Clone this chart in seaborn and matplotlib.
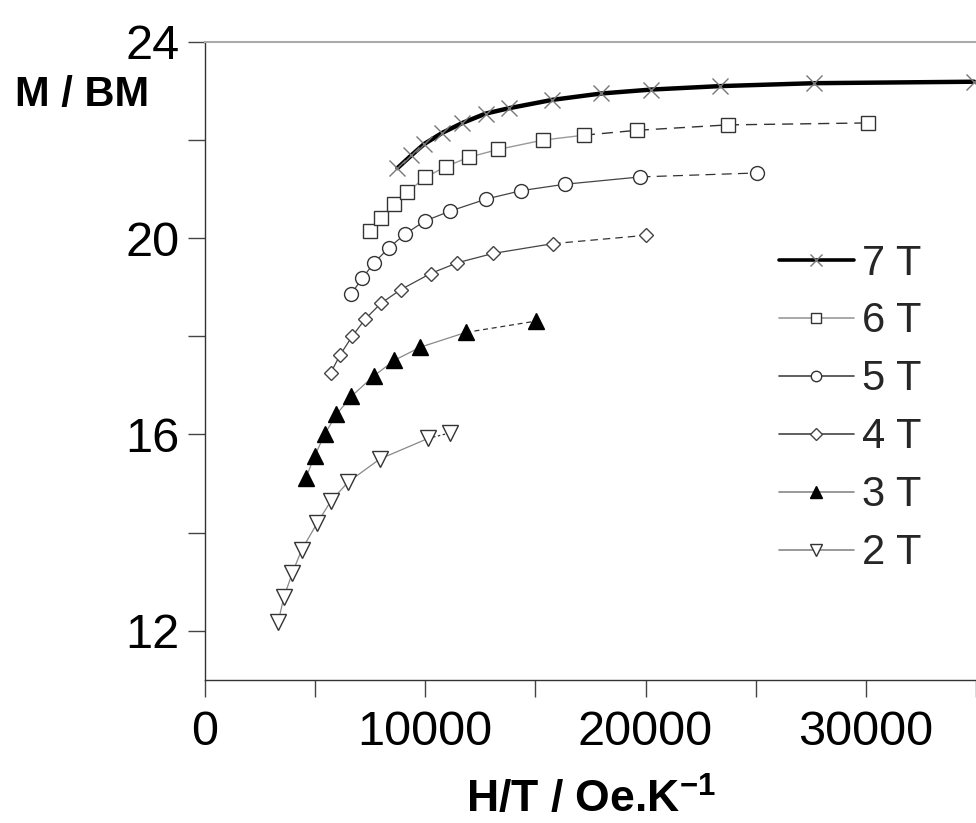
import numpy as np
import pandas as pd
import matplotlib
matplotlib.use("Agg")
import matplotlib.pyplot as plt
from matplotlib.lines import Line2D
from matplotlib.ticker import MultipleLocator
import seaborn as sns

# magnetisation vs H/T, one series per field
x7 = [8740, 9370, 9950, 10780, 11690, 12740, 13800, 15770, 17990, 20260, 23360, 27660, 34920]
y7 = [21.43, 21.69, 21.92, 22.15, 22.35, 22.54, 22.65, 22.82, 22.95, 23.03, 23.10, 23.16, 23.19]

x6 = [7480, 8010, 8570, 9180, 10010, 10930, 11970, 13320, 15340, 17200, 19620, 23730, 30080]
y6 = [20.15, 20.42, 20.69, 20.94, 21.24, 21.46, 21.65, 21.81, 22.00, 22.10, 22.20, 22.31, 22.35]

x5 = [6650, 7130, 7680, 8360, 9100, 9980, 11110, 12780, 14360, 16330, 19770, 25050]
y5 = [18.87, 19.18, 19.50, 19.81, 20.09, 20.35, 20.55, 20.80, 20.97, 21.10, 21.25, 21.33]

x4 = [5700, 6120, 6680, 7270, 7980, 8880, 10240, 11460, 13080, 15800, 20030]
y4 = [17.25, 17.61, 18.00, 18.35, 18.67, 18.95, 19.28, 19.50, 19.69, 19.89, 20.06]

x3 = [4580, 4990, 5440, 5970, 6650, 7660, 8590, 9780, 11840, 15010]
y3 = [15.12, 15.57, 16.01, 16.41, 16.78, 17.19, 17.51, 17.78, 18.08, 18.31]

x2 = [3320, 3580, 3960, 4390, 5090, 5710, 6500, 7940, 10130, 11110]
y2 = [12.17, 12.68, 13.17, 13.65, 14.19, 14.64, 15.03, 15.50, 15.92, 16.03]

labels = ["7 T", "6 T", "5 T", "4 T", "3 T", "2 T"]
xs = [x7, x6, x5, x4, x3, x2]
ys = [y7, y6, y5, y4, y3, y2]

# style per series: marker, size, edge, face, line colour, width, index where the dashed tail starts
styles = {
    "7 T": dict(marker="x", ms=11, mec="#777777", mfc="none", lc="black", lw=3.2, tail=None, tls=None),
    "6 T": dict(marker="s", ms=10, mec="#333333", mfc="white", lc="#999999", lw=1.0, tail=9, tls=(0, (8, 5))),
    "5 T": dict(marker="o", ms=10, mec="#333333", mfc="white", lc="#444444", lw=0.9, tail=10, tls=(0, (8, 5))),
    "4 T": dict(marker="D", ms=7.5, mec="#444444", mfc="white", lc="#444444", lw=0.9, tail=9, tls=(0, (6, 4))),
    "3 T": dict(marker="^", ms=11, mec="black", mfc="black", lc="#888888", lw=0.9, tail=8, tls=(0, (4, 3))),
    "2 T": dict(marker="v", ms=11, mec="#333333", mfc="white", lc="#888888", lw=0.9, tail=8, tls=(0, (2, 2))),
}

rows = []
for lab, xv, yv in zip(labels, xs, ys):
    for i, (a, b) in enumerate(zip(xv, yv)):
        rows.append({"series": lab, "idx": i, "HT": a, "M": b})
df = pd.DataFrame(rows)

sns.set_style("ticks")
plt.rcParams["font.family"] = ["Liberation Sans", "DejaVu Sans"]
plt.rcParams["mathtext.fontset"] = "custom"
plt.rcParams["mathtext.rm"] = "Liberation Sans"
plt.rcParams["mathtext.bf"] = "Liberation Sans:bold"

fig = plt.figure(figsize=(9.76, 8.23), dpi=100)
ax = fig.add_axes([0.21, 0.174, 0.79, 0.775])

handles = []
for lab in labels:
    st = styles[lab]
    sub = df[df["series"] == lab]
    if st["tail"] is None:
        sns.lineplot(data=sub, x="HT", y="M", ax=ax, color=st["lc"], linewidth=st["lw"],
                     sort=False, zorder=2)
    else:
        head = sub[sub["idx"] <= st["tail"]]
        tail = sub[sub["idx"] >= st["tail"]]
        sns.lineplot(data=head, x="HT", y="M", ax=ax, color=st["lc"], linewidth=st["lw"],
                     sort=False, zorder=2)
        sns.lineplot(data=tail, x="HT", y="M", ax=ax, color="#333333", linewidth=st["lw"],
                     linestyle=st["tls"], sort=False, zorder=2)
    sns.lineplot(data=sub, x="HT", y="M", ax=ax, linestyle="none", marker=st["marker"],
                 markersize=st["ms"], markeredgecolor=st["mec"], markerfacecolor=st["mfc"],
                 markeredgewidth=1.0, sort=False, zorder=3)
    handles.append(Line2D([], [], color=st["lc"], linewidth=max(st["lw"], 1.2) if lab != "7 T" else 2.6,
                          marker=st["marker"], markersize=st["ms"] * 0.75,
                          markeredgecolor=st["mec"], markerfacecolor=st["mfc"],
                          markeredgewidth=1.0))

ax.set_xlim(0, 35000)
ax.set_ylim(11, 24)
ax.xaxis.set_major_locator(MultipleLocator(10000))
ax.xaxis.set_minor_locator(MultipleLocator(5000))
ax.yaxis.set_major_locator(MultipleLocator(4))
ax.yaxis.set_minor_locator(MultipleLocator(2))
ax.tick_params(which="both", direction="out", length=12, width=1.0, color="#444444",
               labelcolor="black")
ax.tick_params(axis="x", which="major", labelsize=35, pad=10)
ax.tick_params(axis="y", which="major", labelsize=35, pad=6)

for side in ["left", "bottom"]:
    ax.spines[side].set_color("#333333")
    ax.spines[side].set_linewidth(1.0)
ax.spines["top"].set_visible(True)
ax.spines["top"].set_color("#aaaaaa")
ax.spines["top"].set_linewidth(1.5)
ax.spines["right"].set_visible(False)

ax.set_xlabel(r"H/T / Oe.K$^{\mathbf{-1}}$", fontsize=32, fontweight="bold", color="black",
              labelpad=16)
ax.set_ylabel("M / BM", fontsize=30, fontweight="bold", color="black", rotation=0,
              ha="center", va="center")
ax.yaxis.set_label_coords(-0.16, 0.917)

ax.legend(handles, labels, loc="upper left", bbox_to_anchor=(0.744, 0.684), frameon=False,
          fontsize=30, handlelength=1.8, handletextpad=0.2, labelspacing=0.43,
          borderaxespad=0, borderpad=0)

fig.savefig("out.png", dpi=100)
